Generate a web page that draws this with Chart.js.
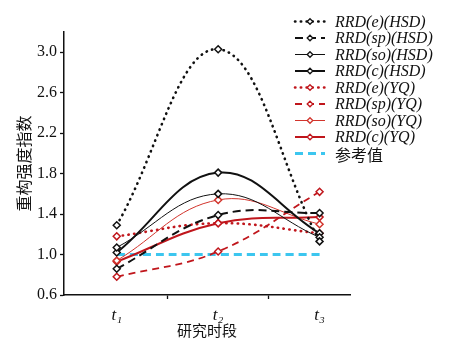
<!DOCTYPE html>
<html>
<head>
<meta charset="utf-8">
<script src="https://cdn.jsdelivr.net/npm/chart.js@4/dist/chart.umd.min.js"></script>
<style>
  html, body { margin: 0; padding: 0; background: #fff; }
  #wrap { width: 461px; height: 343px; }
</style>
</head>
<body>
<div id="wrap"><canvas id="chart" width="461" height="343"></canvas></div>
<script>
// Data
const periods = ['t\u2081', 't\u2082', 't\u2083'];
const yTicks = [0.6, 1.0, 1.4, 1.8, 2.2, 2.6, 3.0];

const eHSD  = [1.29, 3.03, 1.13];
const spHSD = [0.86, 1.39, 1.41];
const soHSD = [1.07, 1.60, 1.17];
const cHSD  = [1.02, 1.81, 1.21];
const eYQ   = [1.18, 1.31, 1.21];
const spYQ  = [0.78, 1.03, 1.62];
const soYQ  = [0.94, 1.54, 1.30];
const cYQ   = [0.93, 1.31, 1.37];
const refValue = [1.0, 1.0, 1.0];

const BLACK = '#111111';
const RED = '#c0161c';
const RED_LIGHT = '#d2342c';
const CYAN = '#3cc6ef';

function pts(arr) {
    return arr.map((v, i) => ({ x: i + 1, y: v }));
}

function series(label, data, color, width, dash, marker) {
    return {
        label: label,
        data: pts(data),
        borderColor: color,
        borderWidth: width,
        borderDash: dash,
        borderCapStyle: dash.length && dash[0] < 1 ? 'round' : 'butt',
        tension: 0.4,
        fill: false,
        pointStyle: 'rectRot',
        pointRadius: marker ? 3.5 : 0,
        pointBorderWidth: 1.5,
        pointBorderColor: color,
        pointBackgroundColor: '#fff'
    };
}

const datasets = [
    series('RRD(e)(HSD)', eHSD, BLACK, 2.6, [0.4, 5.4], true),
    series('RRD(sp)(HSD)', spHSD, BLACK, 2, [8, 5], true),
    series('RRD(so)(HSD)', soHSD, BLACK, 1, [], true),
    series('RRD(c)(HSD)', cHSD, BLACK, 2, [], true),
    series('RRD(e)(YQ)', eYQ, RED, 2.6, [0.4, 5.4], true),
    series('RRD(sp)(YQ)', spYQ, RED, 1.8, [7, 5], true),
    series('RRD(so)(YQ)', soYQ, RED_LIGHT, 1, [], true),
    series('RRD(c)(YQ)', cYQ, RED, 2, [], true),
    series('参考值', refValue, CYAN, 3, [8, 5], false)
];

// legend drawn in the upper right, over the plot
const legendPlugin = {
    id: 'sideLegend',
    afterDraw(chart) {
        const ctx = chart.ctx;
        const x0 = 295, x1 = 325, tx = 335;
        let y = 21.5;
        chart.data.datasets.forEach(ds => {
            ctx.save();
            ctx.strokeStyle = ds.borderColor;
            ctx.lineWidth = ds.borderWidth;
            ctx.setLineDash(ds.borderDash);
            ctx.lineCap = ds.borderCapStyle;
            ctx.beginPath();
            ctx.moveTo(x0, y);
            ctx.lineTo(x1, y);
            ctx.stroke();
            ctx.setLineDash([]);
            if (ds.pointRadius > 0) {
                const m = (x0 + x1) / 2, r = 2.8;
                ctx.fillStyle = '#fff';
                ctx.lineWidth = 1.3;
                ctx.beginPath();
                ctx.moveTo(m, y - r);
                ctx.lineTo(m + r, y);
                ctx.lineTo(m, y + r);
                ctx.lineTo(m - r, y);
                ctx.closePath();
                ctx.fill();
                ctx.stroke();
            }
            ctx.fillStyle = '#111';
            ctx.textBaseline = 'middle';
            if (/^RRD/.test(ds.label)) {
                ctx.font = 'italic 16px "Liberation Serif", serif';
            } else {
                ctx.font = '16px "Noto Sans CJK SC", sans-serif';
            }
            ctx.fillText(ds.label, tx, y + 1);
            ctx.restore();
            y += 16.5;
        });
    }
};

new Chart(document.getElementById('chart'), {
    type: 'line',
    data: { datasets: datasets },
    options: {
        responsive: false,
        animation: false,
        layout: { padding: { top: 32, right: 111, left: 0, bottom: 0 } },
        plugins: {
            legend: { display: false },
            tooltip: { enabled: false }
        },
        scales: {
            x: {
                type: 'linear',
                min: 0.48,
                max: 3.3,
                afterBuildTicks: scale => {
                    scale.ticks = [1, 1.5, 2, 2.5, 3].map(v => ({ value: v }));
                },
                afterFit: scale => { scale.height = 48; },
                border: { color: BLACK, width: 1.5 },
                grid: {
                    drawOnChartArea: false,
                    tickLength: 4,
                    tickWidth: 1.3,
                    tickColor: ctx => (ctx.tick && ctx.tick.value % 1 !== 0) ? BLACK : 'rgba(0,0,0,0)'
                },
                ticks: {
                    autoSkip: false,
                    maxRotation: 0,
                    padding: 6,
                    color: '#111',
                    font: { family: '"Liberation Serif", serif', size: 17, style: 'italic' },
                    callback: v => (v % 1 === 0 ? periods[v - 1] : '')
                },
                title: {
                    display: true,
                    text: '研究时段',
                    color: '#111',
                    padding: { top: 0, bottom: 4 },
                    font: { family: '"Noto Sans CJK SC", sans-serif', size: 15 }
                }
            },
            y: {
                min: 0.6,
                max: 3.2,
                afterBuildTicks: scale => {
                    scale.ticks = yTicks.map(v => ({ value: v }));
                },
                afterFit: scale => { scale.width = 64; },
                border: { color: BLACK, width: 1.5 },
                grid: {
                    drawOnChartArea: false,
                    tickLength: 4,
                    tickWidth: 1.3,
                    tickColor: BLACK
                },
                ticks: {
                    padding: 3,
                    color: '#111',
                    font: { family: '"Liberation Serif", serif', size: 16 },
                    callback: v => v.toFixed(1)
                },
                title: {
                    display: true,
                    text: '重构强度指数',
                    color: '#111',
                    padding: { top: 14, bottom: 0 },
                    font: { family: '"Noto Sans CJK SC", sans-serif', size: 16 }
                }
            }
        }
    },
    plugins: [legendPlugin]
});
</script>
</body>
</html>
